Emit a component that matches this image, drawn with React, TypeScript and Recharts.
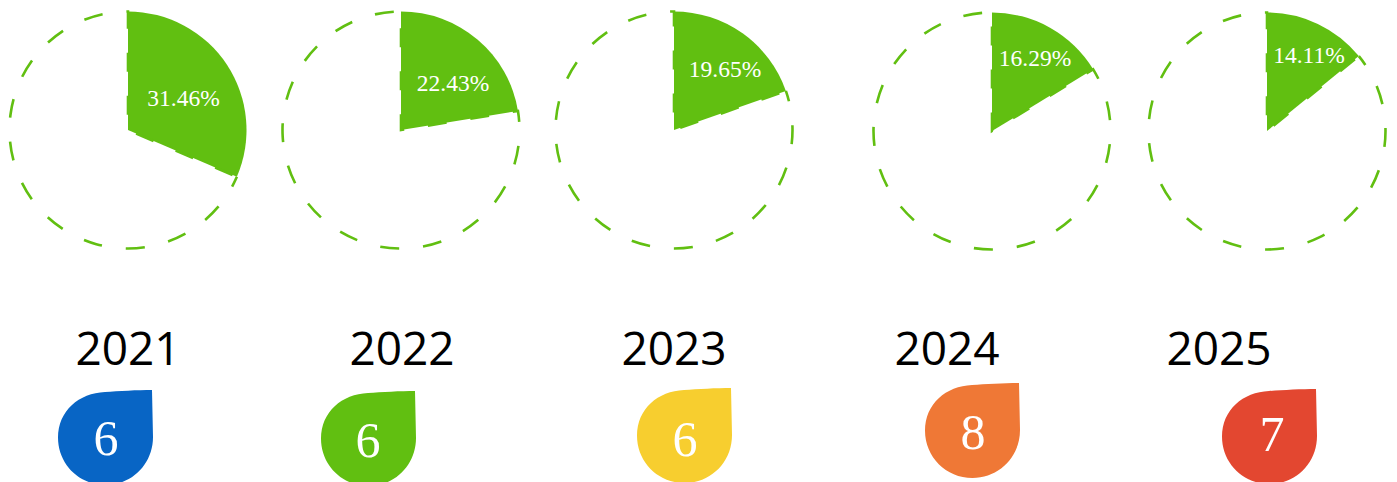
import { PieChart, Pie, Cell, Surface, Text } from 'recharts'

const years = ['2021', '2022', '2023', '2024', '2025']
const shares = [31.46, 22.43, 19.65, 16.29, 14.11]
const counts = [6, 6, 6, 8, 7]
const badgeColors = ['#0865C5', '#61BF11', '#F7CE2F', '#EF7836', '#E34730']

const GREEN = '#61BF11'
const RADIUS = 118.5
const BOX = 260

// layout of the five panels
const pieCenters = [
  [127.5, 130],
  [401, 130],
  [674, 130],
  [992, 131],
  [1267, 131],
]
const labelOffsets = [
  [55.5, -32],
  [52, -47],
  [51, -61],
  [43, -73],
  [42, -76],
]
const yearCenters = [128, 402, 674, 947, 1219]
const badgeOrigins = [
  [58, 390],
  [321, 391],
  [637, 388],
  [925, 383],
  [1222, 389],
]
const digitCenters = [106, 368, 685, 973, 1272]
const digitBaselines = [455, 457, 456, 449, 451]

// teardrop, 95 wide, sharp corner top right
const DROP = 'M47 2 C60 1 80 0 94 0 L95 47 C95 74 74 95 47.5 95 C21 95 0 74 0 47.5 C0 21 21 3 47 2 Z'

function ShareLabel({ index, offset, cx, cy, value }: any) {
  if (index !== 0) return null
  return (
    <text
      x={cx + offset[0]}
      y={cy + offset[1]}
      textAnchor="middle"
      dominantBaseline="central"
      fill="#fff"
      fontFamily="'Liberation Serif', serif"
      fontSize={23.5}
    >
      {value.toFixed(2)}%
    </text>
  )
}

function SharePie({ share, i }: { share: number; i: number }) {
  const [x, y] = pieCenters[i]
  const data = [{ value: share }, { value: 100 - share }]
  return (
    <div style={{ position: 'absolute', left: x - BOX / 2, top: y - BOX / 2 }}>
      <PieChart width={BOX} height={BOX} margin={{ top: 0, right: 0, bottom: 0, left: 0 }}>
        <Pie
          data={data}
          dataKey="value"
          cx={BOX / 2}
          cy={BOX / 2}
          innerRadius={0}
          outerRadius={RADIUS}
          startAngle={90}
          endAngle={-270}
          paddingAngle={0}
          labelLine={false}
          label={(p: any) => <ShareLabel {...p} cx={BOX / 2} cy={BOX / 2} offset={labelOffsets[i]} />}
          isAnimationActive={false}
        >
          <Cell fill={GREEN} stroke="none" />
          <Cell fill="none" stroke={GREEN} strokeWidth={2.6} strokeDasharray="19 24" strokeDashoffset={8} />
        </Pie>
      </PieChart>
    </div>
  )
}

export default function App() {
  return (
    <div style={{ position: 'absolute', left: 0, top: 0, width: 1397, height: 482, overflow: 'hidden', background: '#fff' }}>
      {shares.map((s, i) => (
        <SharePie key={years[i]} share={s} i={i} />
      ))}
      <div style={{ position: 'absolute', left: 0, top: 0 }}>
        <Surface width={1397} height={482} viewBox={{ x: 0, y: 0, width: 1397, height: 482 }} style={{ pointerEvents: 'none' }}>
          {years.map((year, i) => (
            <Text
              key={year}
              x={yearCenters[i]}
              y={365}
              textAnchor="middle"
              fontFamily="'Open Sans', sans-serif"
              fontSize={46}
              fill="#000"
            >
              {year}
            </Text>
          ))}
          {counts.map((count, i) => (
            <g key={years[i]}>
              <path d={DROP} fill={badgeColors[i]} transform={`translate(${badgeOrigins[i][0]} ${badgeOrigins[i][1]})`} />
              <text
                x={digitCenters[i]}
                y={digitBaselines[i]}
                textAnchor="middle"
                fontFamily="'Liberation Serif', serif"
                fontSize={50}
                fill="#fff"
              >
                {count}
              </text>
            </g>
          ))}
        </Surface>
      </div>
    </div>
  )
}
